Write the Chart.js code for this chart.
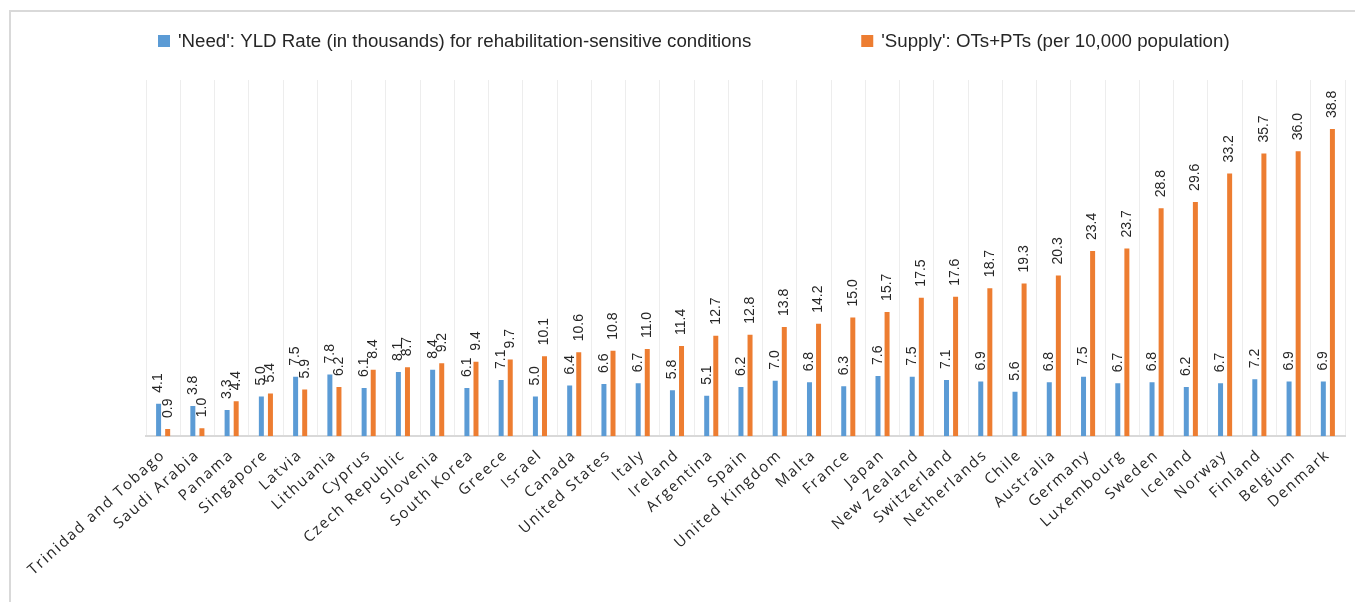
<!DOCTYPE html>
<html>
<head>
<meta charset="utf-8">
<script src="https://cdn.jsdelivr.net/npm/chart.js@4"></script>
<style>
  html, body { margin: 0; padding: 0; background: #fff; }
  #wrap { position: relative; width: 1355px; height: 602px; overflow: hidden; }
  #frame { position: absolute; left: 9px; top: 10px; width: 1400px; height: 700px;
           border-left: 2px solid #d9d9d9; border-top: 2px solid #d9d9d9; }
  canvas { position: absolute; left: 0; top: 0; }
</style>
</head>
<body>
<div id="wrap">
  <div id="frame"></div>
  <canvas id="chart" width="1355" height="602"></canvas>
</div>
<script>
const COUNTRIES = [
  'Trinidad and Tobago', 'Saudi Arabia', 'Panama', 'Singapore', 'Latvia', 'Lithuania',
  'Cyprus', 'Czech Republic', 'Slovenia', 'South Korea', 'Greece', 'Israel', 'Canada',
  'United States', 'Italy', 'Ireland', 'Argentina', 'Spain', 'United Kingdom', 'Malta',
  'France', 'Japan', 'New Zealand', 'Switzerland', 'Netherlands', 'Chile', 'Australia',
  'Germany', 'Luxembourg', 'Sweden', 'Iceland', 'Norway', 'Finland', 'Belgium', 'Denmark',
];

const NEED = [
  4.1, 3.8, 3.3, 5.0, 7.5, 7.8, 6.1, 8.1, 8.4, 6.1, 7.1, 5.0, 6.4, 6.6, 6.7, 5.8, 5.1, 6.2,
  7.0, 6.8, 6.3, 7.6, 7.5, 7.1, 6.9, 5.6, 6.8, 7.5, 6.7, 6.8, 6.2, 6.7, 7.2, 6.9, 6.9,
];

const SUPPLY = [
  0.9, 1.0, 4.4, 5.4, 5.9, 6.2, 8.4, 8.7, 9.2, 9.4, 9.7, 10.1, 10.6, 10.8, 11.0, 11.4, 12.7,
  12.8, 13.8, 14.2, 15.0, 15.7, 17.5, 17.6, 18.7, 19.3, 20.3, 23.4, 23.7, 28.8, 29.6, 33.2,
  35.7, 36.0, 38.8,
];

const NEED_LABEL = "'Need': YLD Rate (in thousands) for rehabilitation-sensitive conditions";
const SUPPLY_LABEL = "'Supply': OTs+PTs (per 10,000 population)";

const BLUE = '#5b9bd5';
const ORANGE = '#ed7d31';

// tick labels in the original are spaced out a bit
const spacing = {
  id: 'spacing',
  beforeLayout(chart) { chart.ctx.letterSpacing = '1.8px'; },
  beforeDraw(chart) { chart.ctx.letterSpacing = '1.8px'; },
};

// legend drawn by hand so the two items sit far apart
const legendRow = {
  id: 'legendRow',
  afterDraw(chart) {
    const ctx = chart.ctx;
    ctx.save();
    ctx.letterSpacing = '0px';
    ctx.font = '18.7px "Liberation Sans", sans-serif';
    ctx.textBaseline = 'middle';
    let x = 158;
    chart.data.datasets.forEach((ds) => {
      ctx.fillStyle = ds.backgroundColor;
      ctx.fillRect(x, 35, 12, 12);
      ctx.fillStyle = '#262626';
      ctx.fillText(ds.label, x + 20, 42);
      x += 20 + ctx.measureText(ds.label).width + 110;
    });
    ctx.restore();
  },
};

// vertical value labels above each bar
const valueLabels = {
  id: 'valueLabels',
  afterDatasetsDraw(chart) {
    const ctx = chart.ctx;
    ctx.save();
    ctx.letterSpacing = '0px';
    ctx.font = '14px "Liberation Sans", sans-serif';
    ctx.fillStyle = '#262626';
    ctx.textAlign = 'left';
    ctx.textBaseline = 'middle';
    chart.data.datasets.forEach((ds, i) => {
      chart.getDatasetMeta(i).data.forEach((bar, j) => {
        ctx.save();
        ctx.translate(bar.x, bar.y - 11);
        ctx.rotate(-Math.PI / 2);
        ctx.fillText(ds.data[j].toFixed(1), 0, 0);
        ctx.restore();
      });
    });
    ctx.restore();
  },
};

new Chart(document.getElementById('chart'), {
  type: 'bar',
  data: {
    labels: COUNTRIES,
    datasets: [
      { label: NEED_LABEL, data: NEED, backgroundColor: BLUE },
      { label: SUPPLY_LABEL, data: SUPPLY, backgroundColor: ORANGE },
    ],
  },
  options: {
    responsive: false,
    animation: false,
    categoryPercentage: 0.53,
    barPercentage: 0.55,
    layout: { padding: { top: 80, right: 10, left: 146, bottom: 13 } },
    plugins: {
      legend: { display: false },
      tooltip: { enabled: false },
    },
    scales: {
      x: {
        grid: { color: '#ededed', lineWidth: 1, drawTicks: false, offset: true },
        border: { color: '#d9d9d9', width: 2 },
        ticks: {
          minRotation: 42,
          maxRotation: 42,
          padding: 10,
          color: '#262626',
          font: { family: '"Open Sans", sans-serif', size: 15 },
        },
      },
      y: {
        display: false,
        min: 0,
        max: 45,
      },
    },
  },
  plugins: [spacing, legendRow, valueLabels],
});
</script>
</body>
</html>
